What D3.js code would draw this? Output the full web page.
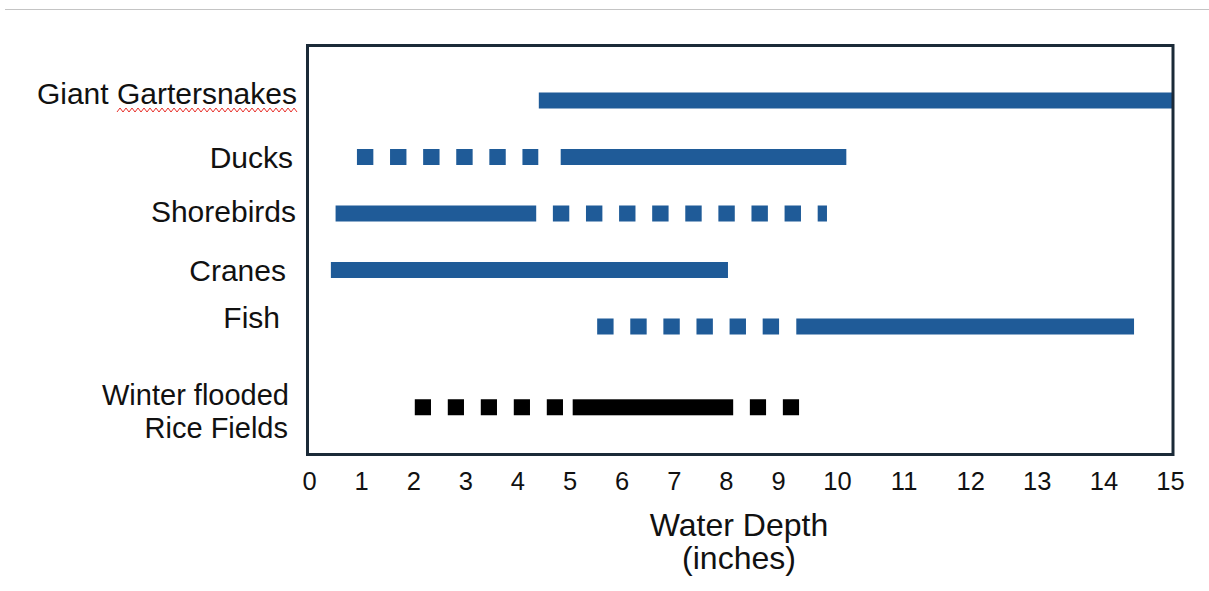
<!DOCTYPE html>
<html>
<head>
<meta charset="utf-8">
<script src="https://cdn.jsdelivr.net/npm/d3@7"></script>
<style>
  html, body { margin: 0; padding: 0; background: #ffffff; }
  svg { display: block; }
  text { font-family: "Liberation Sans", Arial, Helvetica, sans-serif; fill: #111; }
</style>
</head>
<body>
<svg id="chart" width="1209" height="591"></svg>
<script>
// ---- data ----
const categories = ["Giant Gartersnakes", "Ducks", "Shorebirds", "Cranes", "Fish", "Winter flooded\nRice Fields"];
// solid ranges (inches) per category
const solidStart = [4.41, 4.83, 0.51, 0.42, 9.31, 5.06];
const solidEnd   = [15.03, 10.14, 4.36, 8.04, 14.46, 8.14];
// dotted ranges: [category index, start, end]
const dottedCat   = [1, 2, 4, 5, 5];
const dottedStart = [0.92, 4.68, 5.53, 2.03, 8.46];
const dottedEnd   = [4.40, 9.83, 9.02, 4.88, 9.36];
const xTicks = [0,1,2,3,4,5,6,7,8,9,10,11,12,13,14,15];
const xTitle = ["Water Depth", "(inches)"];

// ---- layout ----
const svg = d3.select("#chart");
const BLUE = "#1f5b98", BLACK = "#000000";
// the original axis labels are unevenly spaced: 0-9 narrower, 10-15 wider
const x = d3.scaleLinear().domain([0, 9, 10, 15]).range([309, 778, 837, 1170]);
const rowPos = [0, 1, 2, 3, 4, 5.43];
const y = d3.scaleLinear().domain([0, 4]).range([100.5, 326.5]);
const barH = 16;
const colorOf = i => i === 5 ? BLACK : BLUE;

// top grey rule
svg.append("line").attr("x1", 5).attr("x2", 1209).attr("y1", 9.5).attr("y2", 9.5)
  .attr("stroke", "#c4c4c4").attr("stroke-width", 1);

// solid bars
svg.append("g").selectAll("rect").data(categories).join("rect")
  .attr("x", (d, i) => x(solidStart[i]))
  .attr("width", (d, i) => x(solidEnd[i]) - x(solidStart[i]))
  .attr("y", (d, i) => y(rowPos[i]) - barH / 2)
  .attr("height", barH)
  .attr("fill", (d, i) => colorOf(i));

// dotted bars (square dashes)
svg.append("g").selectAll("line").data(dottedCat).join("line")
  .attr("x1", (d, i) => x(dottedStart[i]))
  .attr("x2", (d, i) => x(dottedEnd[i]))
  .attr("y1", d => y(rowPos[d]))
  .attr("y2", d => y(rowPos[d]))
  .attr("stroke", d => colorOf(d))
  .attr("stroke-width", barH)
  .attr("stroke-dasharray", (d) => d === 5 ? "16.2 16.8" : "16.4 16.7");

// frame
svg.append("rect").attr("x", 307.5).attr("y", 45.5).attr("width", 865.5).attr("height", 409)
  .attr("fill", "none").attr("stroke", "#1b2a38").attr("stroke-width", 3);

// x axis
const axis = svg.append("g").attr("transform", "translate(0,455)")
  .call(d3.axisBottom(x).tickValues(xTicks).tickFormat(d3.format("d")).tickSize(0).tickPadding(17));
axis.select(".domain").remove();
axis.selectAll("text").attr("font-size", "25.5px").attr("fill", "#111")
  .attr("font-family", "'Liberation Sans', Arial, sans-serif");

// category labels
const labelRight = [297, 293, 296, 286, 280, 289];
const labelBase = [104, 167.5, 221.5, 280.5, 328];
categories.forEach((c, i) => {
  const lines = c.split("\n");
  const t = svg.append("text").attr("text-anchor", "end").attr("font-size", (lines.length === 1 ? 30 : 29) + "px");
  if (lines.length === 1) {
    t.append("tspan").attr("x", labelRight[i]).attr("y", labelBase[i]).text(lines[0]);
  } else {
    t.append("tspan").attr("x", labelRight[i]).attr("y", 405).text(lines[0]);
    t.append("tspan").attr("x", labelRight[i] - 1).attr("y", 438).text(lines[1]);
  }
});

// spell-check squiggle under "Gartersnakes"
const sq = [];
for (let px = 117, k = 0; px <= 298; px += 3, k++) sq.push([px, 110 + (k % 2 ? -2 : 2)]);
svg.append("path").attr("d", d3.line()(sq)).attr("fill", "none")
  .attr("stroke", "#e8302a").attr("stroke-width", 1);

// axis title
svg.append("text").attr("text-anchor", "middle").attr("font-size", "32px")
  .attr("x", 739).attr("y", 536).text(xTitle[0]);
svg.append("text").attr("text-anchor", "middle").attr("font-size", "32px")
  .attr("x", 739).attr("y", 569).text(xTitle[1]);
</script>
</body>
</html>
